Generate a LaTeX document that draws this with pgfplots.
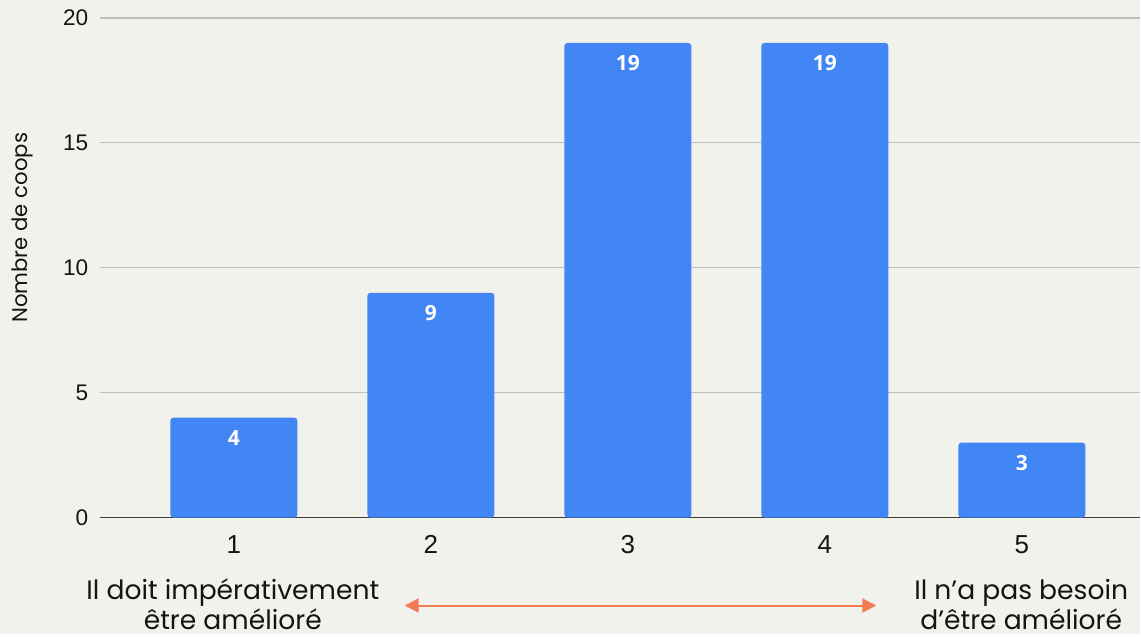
\documentclass[border=0pt]{standalone}
\usepackage{fontspec}
\setmainfont{Poppins}
\newfontfamily\arialfont{Liberation Sans}
\newfontfamily\valfont{Open Sans}
\usepackage{pgfplots}
\pgfplotsset{compat=1.18}
\usetikzlibrary{arrows.meta}

\definecolor{bg}{RGB}{242,242,237}
\definecolor{barblue}{HTML}{4285F4}
\definecolor{gridgray}{RGB}{190,190,190}
\definecolor{axisdark}{RGB}{60,60,60}
\definecolor{arroworange}{RGB}{242,122,84}
\definecolor{ink}{RGB}{20,20,20}

\begin{document}
\begin{tikzpicture}
% page background
\fill[bg] (0,0) rectangle (570.5pt,317.5pt);

\begin{axis}[
  at={(50pt,58.5pt)}, anchor=south west,
  scale only axis, width=520.5pt, height=250pt,
  xmin=0.32, xmax=5.6, ymin=0, ymax=20,
  xtick={1,2,3,4,5}, ytick={0,5,10,15,20},
  axis x line*=bottom, axis y line*=left,
  y axis line style={draw=none},
  x axis line style={axisdark, line width=0.9pt},
  major tick length=0pt,
  ymajorgrids, grid style={gridgray, line width=0.6pt},
  /pgf/number format/assume math mode=true,
  yticklabel style={font=\arialfont\fontsize{11.3}{13}\selectfont, text=ink, xshift=-2.3pt},
  xticklabel style={font=\arialfont\fontsize{13}{15}\selectfont, text=ink, anchor=center, yshift=-13.5pt},
  ybar, bar width=63.5pt,
  nodes near coords,
  nodes near coords style={font=\valfont\bfseries\fontsize{10.5}{12}\selectfont, text=white, anchor=center, yshift=-10pt},
]
\addplot[fill=barblue, draw=none, rounded corners=1.5pt] coordinates {
  (1,4) (2,9) (3,19) (4,19) (5,3)
};
\end{axis}

% axis title
\node[rotate=90, font=\fontsize{10.6}{12}\selectfont, text=ink] at (11pt,203.5pt) {Nombre de coops};

% scale end captions
\node[align=center, font=\fontsize{13.3}{15}\selectfont, text=ink] at (116.5pt,15pt)
  {Il doit impérativement\\être amélioré};
\node[align=center, font=\fontsize{13.3}{15}\selectfont, text=ink] at (511pt,15pt)
  {Il n’a pas besoin\\d’être amélioré};

% direction arrow
\draw[arroworange, line width=1pt, {Triangle[length=7pt,width=7pt]}-{Triangle[length=7pt,width=7pt]}]
  (202.5pt,14.5pt) -- (438.5pt,14.5pt);
\end{tikzpicture}
\end{document}
